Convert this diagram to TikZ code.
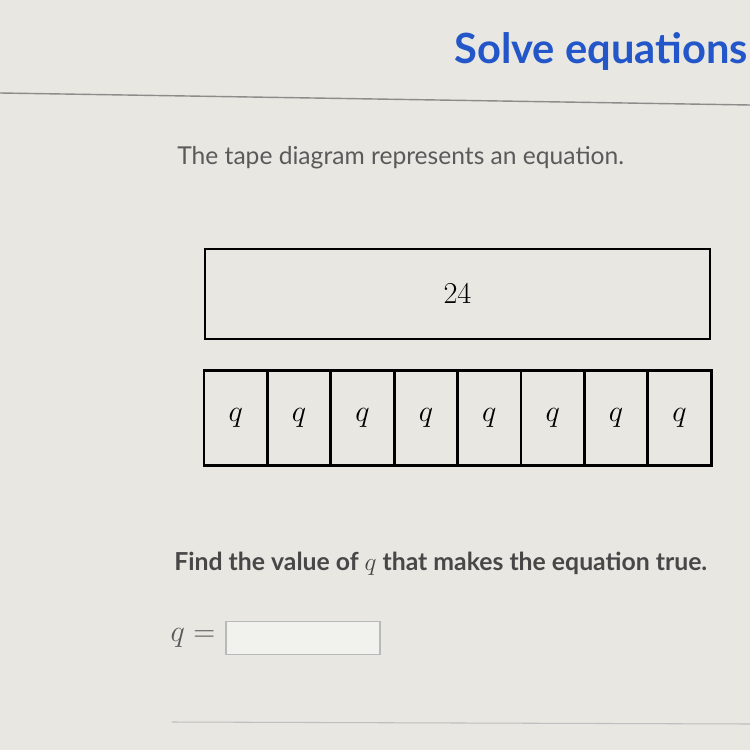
\documentclass[tikz,border=0pt]{standalone}
\usepackage{fontspec}
\setmainfont{Lato}
\usetikzlibrary{positioning}

\definecolor{pagebg}{HTML}{E8E7E2}
\definecolor{titleblue}{HTML}{2356C8}
\definecolor{bodygray}{HTML}{5A5A5A}
\definecolor{rulegray}{HTML}{8C8C8A}

\begin{document}
\begin{tikzpicture}[
        x=0.02cm, y=-0.02cm,
        % Estilos para textos
        titletext/.style={
                anchor=base west,
                inner sep=0pt,
                font=\fontsize{23.7}{28}\selectfont\bfseries,
                text=titleblue
            },
        bodytext/.style={
                anchor=base west,
                inner sep=0pt,
                font=\fontsize{14}{17}\selectfont,
                text=bodygray
            },
        % Estilos para la cinta
        tapebox/.style={
                rectangle,
                draw=black,
                line width=1.6pt,
                minimum width=10.1cm,
                minimum height=1.8cm,
                font=\fontsize{16}{18}\selectfont
            },
        cell/.style={
                rectangle,
                draw=black,
                line width=1.6pt,
                minimum width=1.268cm,
                minimum height=1.9cm,
                font=\fontsize{16}{18}\selectfont
            },
        answerbox/.style={
                rectangle,
                draw=gray!55,
                line width=0.6pt,
                fill=white!40!pagebg,
                minimum width=3.08cm,
                minimum height=0.66cm
            }
    ]

    % FONDO
    \fill[pagebg] (0,0) rectangle (750,750);
    \useasboundingbox (0,0) rectangle (750,750);

    % TITULO
    \node[titletext] (titulo) at (454,64) {Solve equations};
    \draw[rulegray, line width=0.8pt] (0,93) -- (750,105);

    % ENUNCIADO
    \node[bodytext] (enunciado) at (177,164) {The tape diagram represents an equation.};

    % CINTA SUPERIOR
    \node[tapebox] (total) at (457.5,294) {$24$};

    % CINTA INFERIOR
    \foreach \i in {0,...,7}
        \node[cell] (q\i) at ({204+63.4*\i+31.7},418) {$q$};

    % PREGUNTA
    \node[bodytext, font=\fontsize{14.1}{17}\selectfont\bfseries, text=black!72] (pregunta) at (174,570)
        {Find the value of $q$ that makes the equation true.};

    % RESPUESTA
    \node[answerbox] (respuesta) at (303,638) {};
    \node[left=0.2cm of respuesta, font=\fontsize{16}{18}\selectfont, text=bodygray, inner sep=0pt] (igual) {$q=$};
    \draw[gray!50, line width=0.6pt] (172,722) -- (750,724);

\end{tikzpicture}
\end{document}
